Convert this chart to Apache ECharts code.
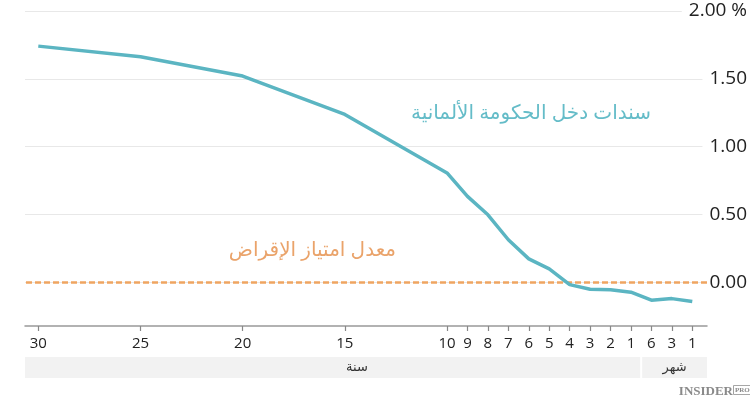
<!DOCTYPE html>
<html>
<head>
<meta charset="utf-8">
<script src="https://cdn.jsdelivr.net/npm/echarts@6/dist/echarts.min.js"></script>
<style>html,body{margin:0;padding:0;background:#fff;}#c{width:750px;height:399px;}</style>
</head>
<body>
<div id="c"></div>
<script>
// Maturities (axis positions: years 30..1, then months 6,3,1 placed at 0,-1,-2)
const maturities = ['30Y','25Y','20Y','15Y','10Y','9Y','8Y','7Y','6Y','5Y','4Y','3Y','2Y','1Y','6M','3M','1M'];
const positions = [30,25,20,15,10,9,8,7,6,5,4,3,2,1,0,-1,-2];
const yields = [1.741,1.663,1.520,1.237,0.806,0.633,0.497,0.313,0.172,0.098,-0.018,-0.052,-0.055,-0.074,-0.133,-0.121,-0.143];
const tickLabels = ['30','25','20','15','10','9','8','7','6','5','4','3','2','1','6','3','1'];
const yTicks = [0, 0.5, 1, 1.5, 2];
const lendingRate = 0;
const bondLabel = 'سندات دخل الحكومة الألمانية';
const rateLabel = 'معدل امتياز الإقراض';
const yearLabel = 'سنة';
const monthLabel = 'شهر';

const FONT = "'Open Sans', 'DejaVu Sans', sans-serif";
const chart = echarts.init(document.getElementById('c'), null, {renderer: 'canvas'});
const labelMap = {};
positions.forEach((p, i) => labelMap[p] = tickLabels[i]);

chart.setOption({
  animation: false,
  grid: {left: 25, right: 43, top: 11, bottom: 73, containLabel: false},
  xAxis: {
    type: 'value', inverse: true, min: -2.72, max: 30.65,
    axisLine: {show: true, onZero: false, lineStyle: {color: '#999', width: 1.5}},
    axisTick: {show: true, length: 5, customValues: positions, lineStyle: {color: '#888', width: 1.2}},
    axisLabel: {show: true, customValues: positions, margin: 10, fontSize: 15, color: '#222', fontFamily: FONT,
      formatter: v => labelMap[v] !== undefined ? labelMap[v] : ''},
    splitLine: {show: false}
  },
  yAxis: {
    type: 'value', position: 'right', min: -0.323, max: 2,
    axisLine: {show: false},
    axisTick: {show: false, customValues: yTicks},
    axisLabel: {customValues: yTicks, align: 'right', margin: 40, fontSize: 19, color: '#222', fontFamily: FONT,
      backgroundColor: '#fff', padding: [0, 0, 0, 7],
      formatter: v => v === 2 ? '2.00 %' : v.toFixed(2)},
    splitLine: {show: true, lineStyle: {color: '#e8e8e8', width: 1}}
  },
  series: [{
    type: 'line', name: bondLabel,
    data: positions.map((p, i) => [p, yields[i]]),
    symbol: 'none', smooth: false,
    lineStyle: {color: '#5bb5c2', width: 3.5},
    z: 3,
    markLine: {
      silent: true, symbol: ['none', 'none'], label: {show: false},
      lineStyle: {color: '#efa561', type: [6, 3], width: 2.5},
      data: [{yAxis: lendingRate}],
      z: 2
    }
  }]
});

function addGraphics() {
  const xl = chart.convertToPixel({xAxisIndex: 0}, 30.65);
  const xr = chart.convertToPixel({xAxisIndex: 0}, -2.72);
  const xs = chart.convertToPixel({xAxisIndex: 0}, 0.5);
  const y0 = chart.convertToPixel({yAxisIndex: 0}, lendingRate);
  const top = 357, h = 21;
  chart.setOption({
    graphic: [
      {type: 'rect', shape: {x: xl, y: top, width: xs - 1 - xl, height: h}, style: {fill: '#f2f2f2'}, silent: true},
      {type: 'rect', shape: {x: xs + 1, y: top, width: xr - xs - 1, height: h}, style: {fill: '#f2f2f2'}, silent: true},
      {type: 'text', x: 357, y: top + h / 2, style: {text: yearLabel, font: "13px " + FONT, fill: '#333', align: 'center', verticalAlign: 'middle'}},
      {type: 'text', x: (xs + 1 + xr) / 2, y: top + h / 2, style: {text: monthLabel, font: "13px " + FONT, fill: '#333', align: 'center', verticalAlign: 'middle'}},
      {type: 'text', x: 651, y: 113, style: {text: bondLabel, font: "20px " + FONT, fill: '#64bcc8', align: 'right', verticalAlign: 'middle'}},
      {type: 'text', x: 396, y: y0 - 32, style: {text: rateLabel, font: "20px " + FONT, fill: '#eaa36a', align: 'right', verticalAlign: 'middle'}},
      {type: 'text', x: 733, y: 392, style: {text: 'INSIDER', font: "bold 13px 'Liberation Serif', serif", fill: '#8a8a8a', align: 'right', verticalAlign: 'middle'}},
      {type: 'text', x: 734, y: 390, style: {text: 'PRO', font: "bold 7px 'Liberation Serif', serif", fill: '#8a8a8a', align: 'left', verticalAlign: 'middle', backgroundColor: '#fff', borderColor: '#8a8a8a', borderWidth: 0.8, padding: [1, 1, 0, 1]}}
    ]
  });
}
addGraphics();
</script>
</body>
</html>
